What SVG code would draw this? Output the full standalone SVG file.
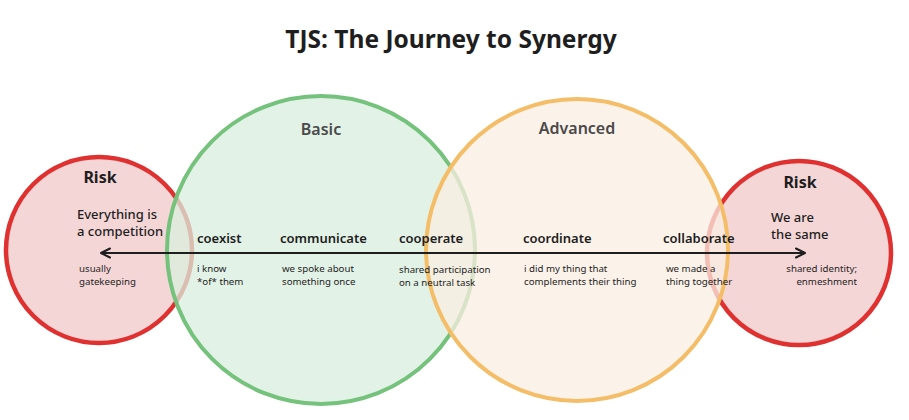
<svg xmlns="http://www.w3.org/2000/svg" width="909" height="420" viewBox="0 0 909 420">
<defs>
<style>
.t{font-family:"Noto Sans","Liberation Sans",sans-serif;fill:#1e1e1e}
.title{font-size:24.5px;font-weight:700;text-anchor:middle}
.grp{font-size:16px;font-weight:600;fill:#4a4a4a;text-anchor:middle}
.risk{font-size:16px;font-weight:700;text-anchor:middle}
.big{font-size:13px;font-weight:500}
.stage{font-size:13px;font-weight:600}
.desc{font-size:9.7px}
.red{stroke:#e03131;stroke-width:4.5;fill:#f1c4c6;fill-opacity:0.7}
.green{stroke:#74c27c;stroke-width:4;fill:#daeedd;fill-opacity:0.75}
.orange{stroke:#f4bd68;stroke-width:4;fill:#faede2;fill-opacity:0.75}
</style>
<marker id="ah" markerWidth="12" markerHeight="12" refX="10" refY="6" orient="auto-start-reverse" markerUnits="userSpaceOnUse">
<path d="M1,1.5 L10,6 L1,10.5" fill="none" stroke="#1e1e1e" stroke-width="2" stroke-linecap="round" stroke-linejoin="round"/>
</marker>
</defs>
<rect width="909" height="420" fill="#ffffff"/>
<text class="t title" x="451" y="48">TJS: The Journey to Synergy</text>
<g id="risk-left"><circle class="red" cx="99" cy="250" r="93"/></g>
<g id="basic"><circle class="green" cx="321" cy="250" r="154"/></g>
<g id="risk-right"><circle class="red" cx="799" cy="253" r="92"/></g>
<g id="advanced"><circle class="orange" cx="577" cy="250" r="151"/></g>
<g id="connectors">
<line x1="101" y1="253" x2="805" y2="253" stroke="#1e1e1e" stroke-width="2" marker-start="url(#ah)" marker-end="url(#ah)"/>
</g>
<g id="labels">
<text class="t grp" x="321" y="135">Basic</text>
<text class="t grp" x="577" y="134">Advanced</text>
<text class="t risk" x="100" y="183">Risk</text>
<text class="t risk" x="800" y="188">Risk</text>
<text class="t big" x="77" y="219">Everything is</text>
<text class="t big" x="77" y="236">a competition</text>
<text class="t big" x="771" y="222">We are</text>
<text class="t big" x="771" y="239">the same</text>
<text class="t stage" x="197" y="243">coexist</text>
<text class="t stage" x="280" y="243">communicate</text>
<text class="t stage" x="399" y="243">cooperate</text>
<text class="t stage" x="523" y="243">coordinate</text>
<text class="t stage" x="663" y="243">collaborate</text>
<text class="t desc" x="79" y="272">usually</text>
<text class="t desc" x="79" y="285">gatekeeping</text>
<text class="t desc" x="197" y="272">i know</text>
<text class="t desc" x="197" y="285">*of* them</text>
<text class="t desc" x="282" y="272">we spoke about</text>
<text class="t desc" x="282" y="285">something once</text>
<text class="t desc" x="399" y="273">shared participation</text>
<text class="t desc" x="399" y="286">on a neutral task</text>
<text class="t desc" x="524" y="272">i did my thing that</text>
<text class="t desc" x="524" y="285">complements their thing</text>
<text class="t desc" x="666" y="272">we made a</text>
<text class="t desc" x="666" y="285">thing together</text>
<text class="t desc" x="857" y="272" text-anchor="end">shared identity;</text>
<text class="t desc" x="857" y="285" text-anchor="end">enmeshment</text>
</g>
</svg>
